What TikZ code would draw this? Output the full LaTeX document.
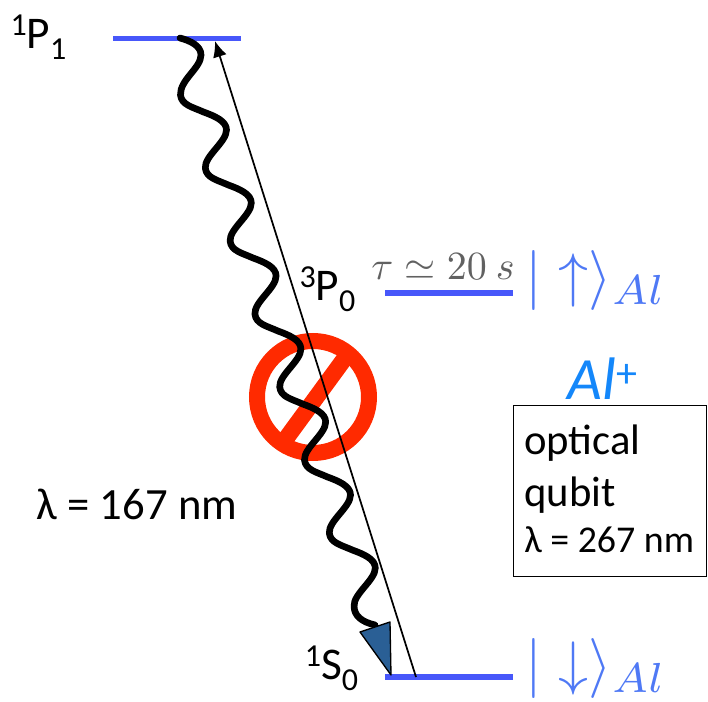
\documentclass[tikz,border=0pt]{standalone}
\usepackage{fontspec}
\setmainfont{Carlito}
\usetikzlibrary{arrows.meta}
\definecolor{levelblue}{HTML}{4757FA}
\definecolor{ketblue}{HTML}{4F79F5}
\definecolor{ionblue}{HTML}{1487FA}
\definecolor{forbidred}{HTML}{FF2A00}
\definecolor{tipblue}{HTML}{2A5F95}
\newcommand{\levelname}[3]{{\fontsize{24}{27}\selectfont\raisebox{10pt}{#1}}#2{\fontsize{24}{27}\selectfont\raisebox{-8pt}{#3}}}
\begin{document}
\begin{tikzpicture}[
    x=0.75pt,y=-0.75pt,
    level/.style={fill=levelblue,inner sep=0pt,minimum width=96pt,minimum height=4.2pt},
    term/.style={inner sep=0pt,font=\fontsize{32}{36}\selectfont},
    ket/.style={inner sep=0pt,text=ketblue,scale=4.5},
    photon/.style={line width=5pt,line cap=round,line join=round}]

  \useasboundingbox (0,0) rectangle (708,702);

  %% ============================ levels =====================================
  \node[level] (upper) at (177,38.5) {};
  \node[level] (clock) at (449,293) {};
  \node[level] (ground) at (449,677) {};
  \node[term,font=\fontsize{34}{38}\selectfont] (upperName) at (38.5,37) {\levelname{1}{P}{1}};
  \node[term,font=\fontsize{34}{38}\selectfont] (clockName) at (327.5,289) {\levelname{3}{P}{0}};
  \node[term,font=\fontsize{34}{38}\selectfont] (groundName) at (331.5,668) {\levelname{1}{S}{0}};

  %% ============================ forbidden sign =============================
  \draw[forbidred,line width=12pt] (313,397) circle (56);
  \draw[forbidred,line width=12.5pt] (345,358) -- (285,440);

  %% ============================ decay and drive ============================
  \coordinate (waveStart) at (180,38);
  \coordinate (waveEnd) at (375,625);
  \coordinate (driveStart) at (416,677);
  \coordinate (driveEnd) at (215,41);
  \draw[photon] (waveStart) .. controls (191,41) and (201,46) .. (201,55)
    .. controls (201,68) and (179.7,80) .. (180.5,95)
    \foreach \i in {0,...,6} {
      .. controls ({180.5+24.8*\i+1},{95+73*\i+10}) and ({180.5+24.8*\i+12},{95+73*\i+12}) .. ({180.5+24.8*\i+23},{95+73*\i+17})
      .. controls ({180.5+24.8*\i+34},{95+73*\i+21}) and ({180.5+24.8*\i+46},{95+73*\i+26}) .. ({180.5+24.8*\i+46},{95+73*\i+35})
      .. controls ({180.5+24.8*\i+46},{95+73*\i+47}) and ({180.5+24.8*\i+24},{95+73*\i+61}) .. ({180.5+24.8*(\i+1)},{95+73*(\i+1)})
    }
    .. controls (354,616) and (362,622) .. (waveEnd);
  \draw[fill=tipblue,line width=1pt,line join=round] (360,632) -- (390,622) -- (391,675) -- cycle;
  \draw[line width=1.3pt,-{Latex[length=12pt,width=10.5pt]}] (driveStart) -- (driveEnd);

  %% ============================ right column ===============================
  \node[inner sep=0pt,text=black!62,scale=3] (lifetime) at (443,267) {$\tau\simeq 20\ s$};
  \node[ket] (ketUp) at (596,281) {$|\uparrow\rangle_{Al}$};
  \node[ket] (ketDown) at (596,669) {$|\downarrow\rangle_{Al}$};
  \node[term,text=ionblue,font=\fontsize{45}{48}\selectfont\itshape] (ion) at (603,379) {Al\textsuperscript{\normalfont +}};
  \node[draw,line width=1.2pt,minimum width=144.5pt,minimum height=128pt,inner sep=0pt] (qubitBox) at (610,491) {};
  \node[term,anchor=west] (boxA) at (524,443) {optical};
  \node[term,anchor=west] (boxB) at (524,495) {qubit};
  \node[term,anchor=west,font=\fontsize{28.4}{32}\selectfont] (boxC) at (524,540) {λ = 267 nm};
  \node[term,font=\fontsize{33.5}{38}\selectfont] (decayLabel) at (137,504) {λ = 167 nm};

\end{tikzpicture}
\end{document}
